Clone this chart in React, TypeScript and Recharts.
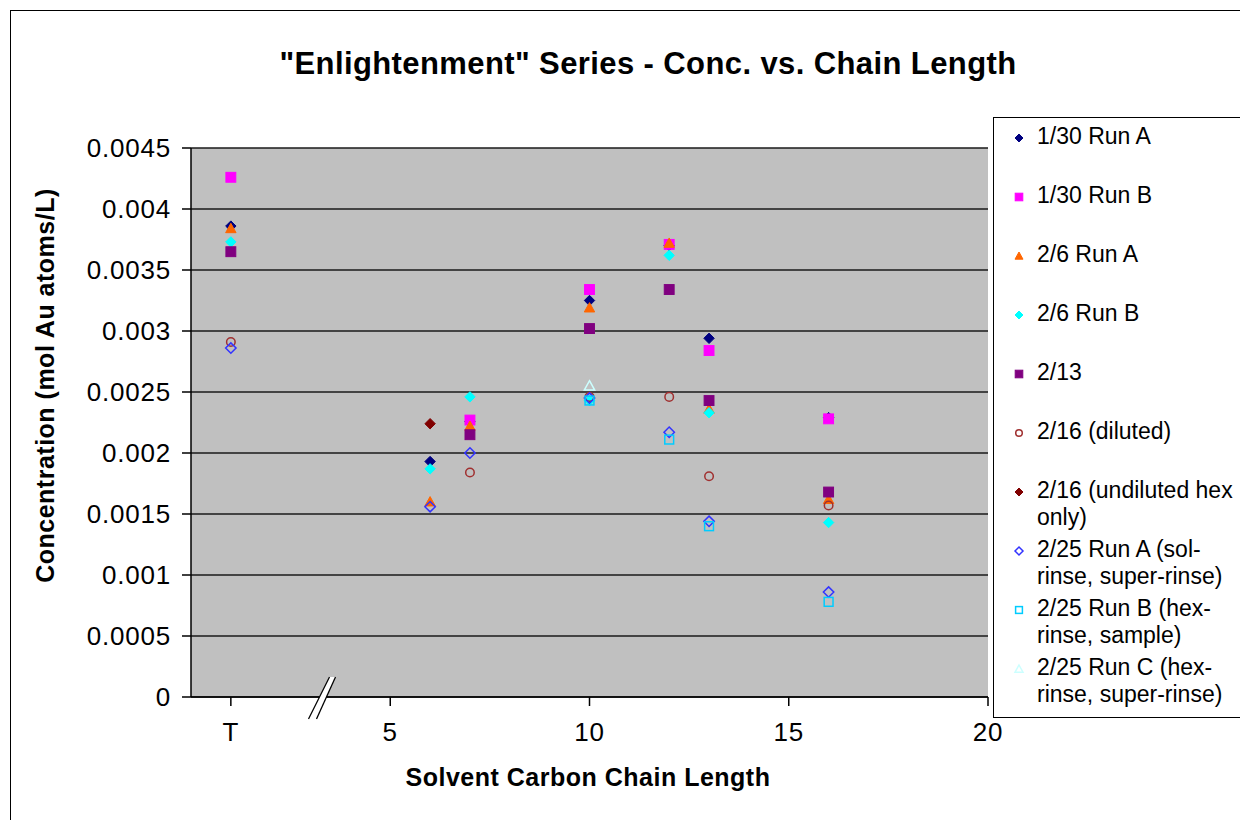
import React from 'react';
import { ScatterChart, Scatter, XAxis, YAxis, CartesianGrid, ReferenceDot } from 'recharts';

// Chain length ticks ("T" sits at position 1) and concentration ticks
const xTicks = [1, 5, 10, 15, 20];
const yTicks = [0, 0.0005, 0.001, 0.0015, 0.002, 0.0025, 0.003, 0.0035, 0.004, 0.0045];

// Measured concentrations (mol Au atoms/L) by solvent chain length
const run130A = [
  { x: 1, y: 0.00386 }, { x: 6, y: 0.00193 }, { x: 7, y: 0.00226 }, { x: 10, y: 0.00325 },
  { x: 12, y: 0.0037 }, { x: 13, y: 0.00294 }, { x: 16, y: 0.00229 },
];
const run130B = [
  { x: 1, y: 0.00426 }, { x: 7, y: 0.00227 }, { x: 10, y: 0.00334 },
  { x: 12, y: 0.00371 }, { x: 13, y: 0.00284 }, { x: 16, y: 0.00228 },
];
const run26A = [
  { x: 1, y: 0.00384 }, { x: 6, y: 0.0016 }, { x: 7, y: 0.00222 }, { x: 10, y: 0.00319 },
  { x: 12, y: 0.00372 }, { x: 13, y: 0.00236 }, { x: 16, y: 0.00162 },
];
const run26B = [
  { x: 1, y: 0.00373 }, { x: 6, y: 0.00187 }, { x: 7, y: 0.00246 }, { x: 10, y: 0.00243 },
  { x: 12, y: 0.00362 }, { x: 13, y: 0.00233 }, { x: 16, y: 0.00143 },
];
const run213 = [
  { x: 1, y: 0.00365 }, { x: 7, y: 0.00215 }, { x: 10, y: 0.00302 },
  { x: 12, y: 0.00334 }, { x: 13, y: 0.00243 }, { x: 16, y: 0.00168 },
];
const run216Diluted = [
  { x: 1, y: 0.00291 }, { x: 7, y: 0.00184 }, { x: 10, y: 0.00246 },
  { x: 12, y: 0.00246 }, { x: 13, y: 0.00181 }, { x: 16, y: 0.00157 },
];
const run216Undiluted = [{ x: 6, y: 0.00224 }];
const run225A = [
  { x: 1, y: 0.00286 }, { x: 6, y: 0.00156 }, { x: 7, y: 0.002 }, { x: 10, y: 0.00245 },
  { x: 12, y: 0.00217 }, { x: 13, y: 0.00144 }, { x: 16, y: 0.00086 },
];
const run225B = [
  { x: 10, y: 0.00243 }, { x: 12, y: 0.00211 }, { x: 13, y: 0.0014 }, { x: 16, y: 0.00078 },
];
const run225C = [{ x: 10, y: 0.00255 }];

type Kind = 'diamond' | 'square' | 'triangle' | 'circle';

interface SeriesDef {
  name: string[];
  data: { x: number; y: number }[];
  kind: Kind;
  color: string;
  open: boolean;
}

const series: SeriesDef[] = [
  { name: ['1/30 Run A'], data: run130A, kind: 'diamond', color: '#000080', open: false },
  { name: ['1/30 Run B'], data: run130B, kind: 'square', color: '#FF00FF', open: false },
  { name: ['2/6 Run A'], data: run26A, kind: 'triangle', color: '#FF6600', open: false },
  { name: ['2/6 Run B'], data: run26B, kind: 'diamond', color: '#00FFFF', open: false },
  { name: ['2/13'], data: run213, kind: 'square', color: '#800080', open: false },
  { name: ['2/16 (diluted)'], data: run216Diluted, kind: 'circle', color: '#A03030', open: true },
  { name: ['2/16 (undiluted hex', 'only)'], data: run216Undiluted, kind: 'diamond', color: '#800000', open: false },
  { name: ['2/25 Run A (sol-', 'rinse, super-rinse)'], data: run225A, kind: 'diamond', color: '#3333FF', open: true },
  { name: ['2/25 Run B (hex-', 'rinse, sample)'], data: run225B, kind: 'square', color: '#00CCFF', open: true },
  { name: ['2/25 Run C (hex-', 'rinse, super-rinse)'], data: run225C, kind: 'triangle', color: '#CCFFFF', open: true },
];

const FONT = '"Liberation Sans", Arial, Helvetica, sans-serif';

function marker(kind: Kind, cx: number, cy: number, r: number, color: string, open: boolean) {
  const fill = open ? 'none' : color;
  const stroke = color;
  const sw = open ? 1.5 : 1;
  if (kind === 'diamond') {
    const pts = `${cx},${cy - r} ${cx + r},${cy} ${cx},${cy + r} ${cx - r},${cy}`;
    return <polygon points={pts} fill={fill} stroke={stroke} strokeWidth={sw} />;
  }
  if (kind === 'square') {
    const s = open ? r * 0.85 : r * 0.95;
    return <rect x={cx - s} y={cy - s} width={s * 2} height={s * 2} fill={fill} stroke={stroke} strokeWidth={sw} />;
  }
  if (kind === 'triangle') {
    const pts = `${cx},${cy - r} ${cx + r},${cy + r * 0.8} ${cx - r},${cy + r * 0.8}`;
    return <polygon points={pts} fill={fill} stroke={stroke} strokeWidth={sw} />;
  }
  return <circle cx={cx} cy={cy} r={r * 0.82} fill={fill} stroke={stroke} strokeWidth={sw} />;
}

const makeShape = (s: SeriesDef) => (p: any) => {
  const { cx, cy } = p;
  if (cx == null || cy == null) return <g />;
  return <g>{marker(s.kind, cx, cy, 5.2, s.color, s.open)}</g>;
};

// Axis break symbol drawn on the x axis
const AxisBreak = (p: any) => {
  const { cx, cy } = p;
  const top = cy - 20;
  const bot = cy + 22;
  return (
    <g>
      <polygon
        points={`${cx + 7},${top} ${cx + 13},${top} ${cx - 6},${bot} ${cx - 14},${bot}`}
        fill="#FFFFFF"
        stroke="none"
      />
      <line x1={cx + 7} y1={top} x2={cx - 14} y2={bot} stroke="#000" strokeWidth={1.3} />
      <line x1={cx + 13} y1={top} x2={cx - 6} y2={bot} stroke="#000" strokeWidth={1.3} />
    </g>
  );
};

const xTickLabel = (v: number) => (v === 1 ? 'T' : String(v));

export default function App() {
  return (
    <div style={{ position: 'relative', width: 1240, height: 812, fontFamily: FONT, background: '#fff' }}>
      <div
        style={{
          position: 'absolute', left: 2, top: 2, width: 1300, height: 900,
          borderLeft: '1px solid #000', borderTop: '1px solid #000',
        }}
      />
      <div
        style={{
          position: 'absolute', left: 0, top: 38, width: 1280, textAlign: 'center',
          fontWeight: 'bold', fontSize: 31, letterSpacing: 0.4, color: '#000',
        }}
      >
        "Enlightenment" Series - Conc. vs. Chain Length
      </div>
      <div
        style={{
          position: 'absolute', left: 37, top: 378, width: 0, height: 0,
        }}
      >
        <div
          style={{
            position: 'absolute', left: -300, top: -15, width: 600, textAlign: 'center',
            transform: 'rotate(-90deg)', fontWeight: 'bold', fontSize: 25, letterSpacing: 0.5,
            whiteSpace: 'nowrap',
          }}
        >
          Concentration (mol Au atoms/L)
        </div>
      </div>
      <div
        style={{
          position: 'absolute', left: 280, top: 755, width: 600, textAlign: 'center',
          fontWeight: 'bold', fontSize: 25, letterSpacing: 0.5,
        }}
      >
        Solvent Carbon Chain Length
      </div>

      <div style={{ position: 'absolute', left: 0, top: 0 }}>
        <ScatterChart
          width={1240}
          height={812}
          margin={{ top: 140, right: 260, left: 0, bottom: 83 }}
        >
          <CartesianGrid horizontal vertical={false} fill="#C0C0C0" stroke="#1a1a1a" strokeWidth={1.5} />
          <XAxis
            type="number"
            dataKey="x"
            domain={[0, 20]}
            ticks={xTicks}
            tickFormatter={xTickLabel}
            height={40}
            tickSize={9}
            tickMargin={17}
            stroke="#000"
            strokeWidth={1.5}
            tick={{ fill: '#000', fontSize: 26, fontFamily: FONT, letterSpacing: 0.8 }}
            allowDataOverflow
          />
          <YAxis
            type="number"
            dataKey="y"
            domain={[0, 0.0045]}
            ticks={yTicks}
            width={183}
            tickSize={9}
            tickMargin={11}
            stroke="#000"
            strokeWidth={1.5}
            tick={{ fill: '#000', fontSize: 26, fontFamily: FONT, letterSpacing: 0.8 }}
            allowDataOverflow
          />
          {series.map((s) => (
            <Scatter
              key={s.name.join(' ')}
              name={s.name.join(' ')}
              data={s.data}
              shape={makeShape(s)}
              isAnimationActive={false}
            />
          ))}
          <ReferenceDot x={3.3} y={0} ifOverflow="visible" shape={AxisBreak} />
        </ScatterChart>
      </div>

      <div
        style={{
          position: 'absolute', left: 985, top: 109, width: 259, height: 599,
          border: '1.5px solid #000', background: '#fff',
        }}
      >
        {series.map((s, i) => (
          <div key={i} style={{ position: 'absolute', left: 0, top: 5 + i * 59, width: 259 }}>
            <svg style={{ position: 'absolute', left: 17, top: 7 }} width={16} height={16}>
              {marker(s.kind, 8, 8, 4, s.color, s.open)}
            </svg>
            <div style={{ position: 'absolute', left: 43, top: 0, fontSize: 23, lineHeight: '27px', whiteSpace: 'nowrap' }}>
              {s.name.map((line, j) => (
                <div key={j}>{line}</div>
              ))}
            </div>
          </div>
        ))}
      </div>
    </div>
  );
}
